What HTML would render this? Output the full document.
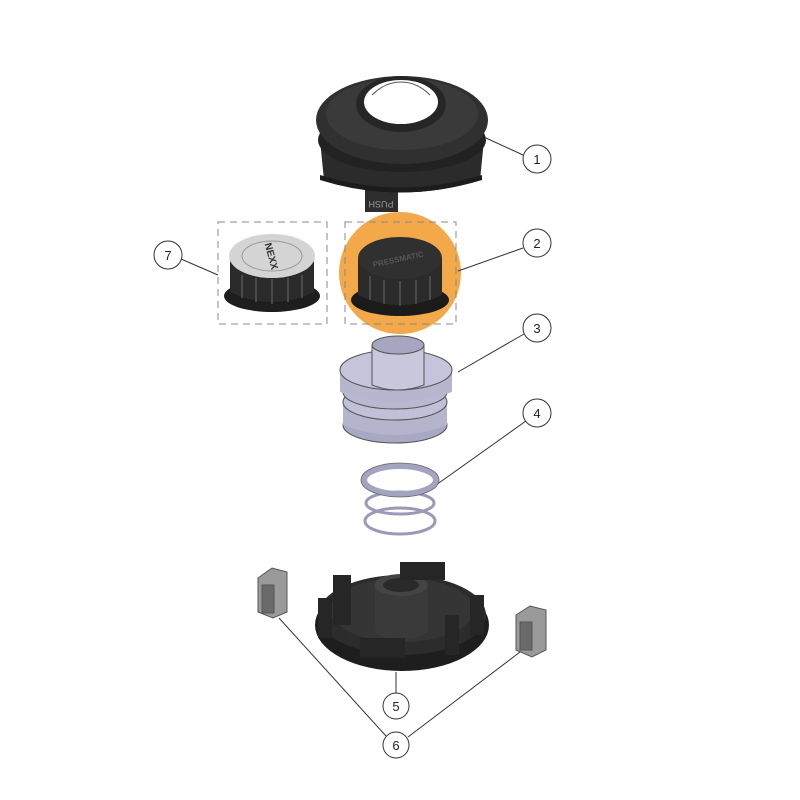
<!DOCTYPE html>
<html><head><meta charset="utf-8"><style>html,body{margin:0;padding:0;background:#fff}svg{display:block}</style></head>
<body>
<svg width="800" height="800" viewBox="0 0 800 800" xmlns="http://www.w3.org/2000/svg" font-family="Liberation Sans, sans-serif">
<rect width="800" height="800" fill="#fff"/>
<circle cx="400" cy="273" r="61" fill="#f3a84a"/>
<rect x="218" y="222" width="109" height="102" fill="none" stroke="#888" stroke-width="1" stroke-dasharray="7,5"/>
<rect x="345" y="222" width="111" height="102" fill="none" stroke="#888" stroke-width="1" stroke-dasharray="7,5"/>
<g stroke="#333" stroke-width="1" fill="none">
<line x1="486" y1="138" x2="523" y2="155"/>
<line x1="458" y1="271" x2="523" y2="248"/>
<line x1="218" y1="275" x2="181" y2="259"/>
<line x1="458" y1="372" x2="524" y2="334"/>
<line x1="436" y1="485" x2="526" y2="421"/>
<line x1="396" y1="672" x2="396" y2="693"/>
<line x1="279" y1="618" x2="386" y2="736"/>
<line x1="520" y1="652" x2="408" y2="737"/>
</g>
<!-- part 1 -->
<g>
<rect x="365" y="190" width="33" height="22" fill="#2d2d2d"/>
<text x="381" y="207" font-size="9" fill="#999" text-anchor="middle" transform="rotate(180 381 204)">PUSH</text>
<path d="M320 140 L324 180 Q400 205 480 180 L484 140 Z" fill="#2b2b2b"/>
<path d="M320 175 Q400 200 482 175 L482 180 Q400 205 320 180Z" fill="#1c1c1c"/>
<ellipse cx="402" cy="140" rx="84" ry="32" fill="#222"/>
<ellipse cx="402" cy="120" rx="86" ry="44" fill="#303030"/>
<ellipse cx="402" cy="114" rx="76" ry="36" fill="#3a3a3a"/>
<ellipse cx="401" cy="104" rx="45" ry="28" fill="#262626"/>
<ellipse cx="401" cy="102" rx="37" ry="22" fill="#fff"/>
<path d="M366 112 Q380 126 401 126 Q422 126 436 112 Q422 132 401 132 Q380 132 366 112Z" fill="#262626"/>
<path d="M372 95 Q385 82 401 82 Q417 82 430 95" fill="none" stroke="#555" stroke-width="1"/>
</g>
<!-- part 7 -->
<g>
<ellipse cx="272" cy="296" rx="48" ry="16" fill="#1e1e1e"/>
<path d="M230 258 L230 292 Q272 312 314 292 L314 258 Z" fill="#2b2b2b"/>
<g stroke="#555" stroke-width="1.5"><line x1="242" y1="275" x2="242" y2="298"/><line x1="256" y1="278" x2="256" y2="302"/><line x1="272" y1="279" x2="272" y2="304"/><line x1="288" y1="278" x2="288" y2="302"/><line x1="302" y1="275" x2="302" y2="298"/></g>
<ellipse cx="272" cy="256" rx="43" ry="22" fill="#d4d4d4"/>
<ellipse cx="272" cy="256" rx="30" ry="15" fill="none" stroke="#999"/>
<text x="272" y="260" font-size="10" font-weight="bold" fill="#333" text-anchor="middle" transform="rotate(75 272 256)">NEXX</text>
</g>
<!-- part 2 -->
<g>
<ellipse cx="400" cy="300" rx="49" ry="16" fill="#1b1b1b"/>
<path d="M358 258 L358 295 Q400 315 442 295 L442 258 Z" fill="#2b2b2b"/>
<g stroke="#555" stroke-width="1.5"><line x1="370" y1="276" x2="370" y2="300"/><line x1="384" y1="280" x2="384" y2="304"/><line x1="400" y1="281" x2="400" y2="306"/><line x1="416" y1="280" x2="416" y2="304"/><line x1="430" y1="276" x2="430" y2="300"/></g>
<ellipse cx="400" cy="258" rx="42" ry="21" fill="#303030"/>
<text x="398" y="262" font-size="8" font-weight="bold" fill="#555" text-anchor="middle" transform="rotate(-12 398 258)">PRESSMATIC</text>
</g>
<!-- part 3 spool -->
<g stroke="#555" stroke-width="1">
<ellipse cx="395" cy="425" rx="52" ry="18" fill="#a8a8c4"/>
<path d="M343 400 L343 425 Q395 445 447 425 L447 400 Z" fill="#b4b4cc" stroke="none"/>
<ellipse cx="395" cy="402" rx="52" ry="18" fill="#c0c0d6"/>
<ellipse cx="395" cy="392" rx="52" ry="17" fill="#b8b8d0"/>
<path d="M340 372 L340 392 Q395 412 452 392 L452 372 Z" fill="#b6b6ce" stroke="none"/>
<ellipse cx="396" cy="370" rx="56" ry="20" fill="#c4c4da"/>
<path d="M372 345 L372 385 Q398 395 424 385 L424 345 Z" fill="#c8c8dc"/>
<ellipse cx="398" cy="345" rx="26" ry="9" fill="#a6a6c0"/>
</g>
<!-- spring -->
<g fill="none" stroke="#666">
<ellipse cx="400" cy="521" rx="35" ry="13" stroke-width="3" stroke="#9a9ab8"/>
<ellipse cx="400" cy="503" rx="34" ry="11" stroke-width="3" stroke="#9a9ab8"/>
<ellipse cx="400" cy="480" rx="36" ry="14" stroke-width="6" stroke="#a4a4c0"/>
<ellipse cx="400" cy="480" rx="39" ry="17" stroke-width="0.8"/>
</g>
<!-- part 5 base -->
<g>
<ellipse cx="402" cy="625" rx="87" ry="46" fill="#1e1e1e"/>
<ellipse cx="402" cy="615" rx="84" ry="40" fill="#2c2c2c"/>
<ellipse cx="402" cy="610" rx="72" ry="32" fill="#353535"/>
<rect x="375" y="585" width="53" height="45" fill="#3a3a3a"/>
<ellipse cx="401" cy="630" rx="26.5" ry="9" fill="#3a3a3a"/>
<ellipse cx="401" cy="585" rx="26.5" ry="11" fill="#444"/>
<ellipse cx="401" cy="585" rx="18" ry="7" fill="#2a2a2a"/>
<rect x="333" y="575" width="18" height="50" fill="#262626"/>
<rect x="400" y="562" width="45" height="18" fill="#262626"/>
<rect x="318" y="598" width="14" height="40" fill="#262626"/>
<rect x="470" y="595" width="14" height="40" fill="#262626"/>
<rect x="445" y="615" width="14" height="40" fill="#262626"/>
<rect x="360" y="638" width="45" height="20" fill="#262626"/>
</g>
<!-- clips -->
<g stroke="#555" stroke-width="1">
<path d="M258 578 L272 568 L287 572 L287 612 L273 618 L258 612 Z" fill="#9a9a9a"/>
<rect x="262" y="585" width="12" height="28" fill="#6a6a6a"/>
<path d="M516 615 L530 606 L546 610 L546 650 L532 657 L516 650 Z" fill="#9a9a9a"/>
<rect x="520" y="622" width="12" height="28" fill="#6a6a6a"/>
</g>
<g fill="#fff" stroke="#333" stroke-width="1">
<circle cx="537" cy="159" r="14"/>
<circle cx="537" cy="243" r="14"/>
<circle cx="168" cy="255" r="14"/>
<circle cx="537" cy="328" r="14"/>
<circle cx="537" cy="413" r="14"/>
<circle cx="396" cy="706" r="13"/>
<circle cx="396" cy="745" r="13"/>
</g>
<g font-size="13" fill="#222" text-anchor="middle">
<text x="537" y="164">1</text>
<text x="537" y="248">2</text>
<text x="168" y="260">7</text>
<text x="537" y="333">3</text>
<text x="537" y="418">4</text>
<text x="396" y="711">5</text>
<text x="396" y="750">6</text>
</g>
</svg>
</body></html>
